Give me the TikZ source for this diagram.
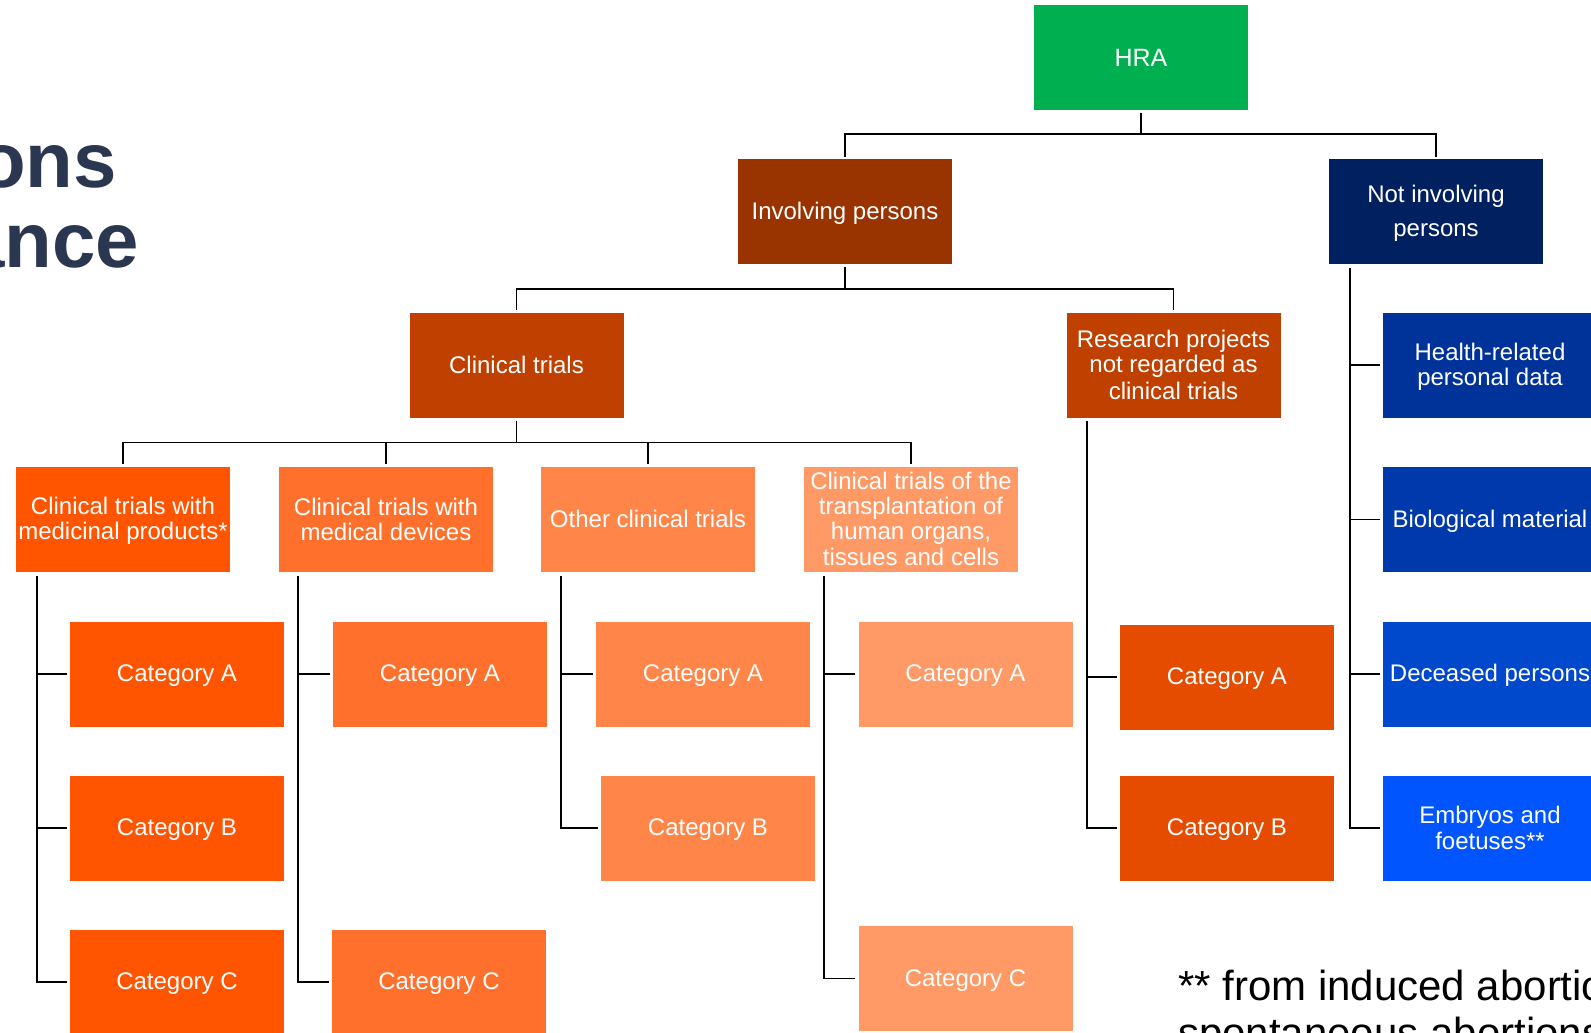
\documentclass[tikz,border=0pt]{standalone}
\usepackage{fontspec}
\setmainfont{Liberation Sans}
\definecolor{cHRA}{HTML}{00B050}
\definecolor{cInv}{HTML}{993300}
\definecolor{cNot}{HTML}{002060}
\definecolor{cCT}{HTML}{C04000}
\definecolor{cMP}{HTML}{FF5500}
\definecolor{cMD}{HTML}{FF702C}
\definecolor{cOT}{HTML}{FF8648}
\definecolor{cTP}{HTML}{FF9966}
\definecolor{cRC}{HTML}{E64C00}
\definecolor{cB1}{HTML}{003399}
\definecolor{cB2}{HTML}{0039AC}
\definecolor{cB3}{HTML}{0048CC}
\definecolor{cB4}{HTML}{0055FF}
\definecolor{cTitle}{HTML}{2B3650}
\newcommand{\ls}{\rule[-0.167em]{0pt}{1.027em}}
\tikzset{
  box/.style={rectangle, inner sep=0pt, minimum width=214pt, minimum height=105pt,
    text=white, align=center, font=\fontsize{24}{24.8}\selectfont},
  link/.style={line width=1.5pt, black},
}
\begin{document}
\begin{tikzpicture}[x=1pt,y=-1pt]
\useasboundingbox (0,0) rectangle (1591,1033);
\clip (0,0) rectangle (1591,1033);

% title fragment
\node[anchor=base east, inner sep=0pt, text=cTitle, font=\fontsize{78}{80}\selectfont\bfseries] (t1) at (117,187) {ons};
\node[anchor=base east, inner sep=0pt, text=cTitle, font=\fontsize{78}{80}\selectfont\bfseries] (t2) at (139,267) {ance};

% footnote
\node[anchor=base west, inner sep=0pt, font=\fontsize{42}{47}\selectfont] (f1) at (1178,1000) {** from induced abortions};
\node[anchor=base west, inner sep=0pt, font=\fontsize{42}{47}\selectfont] (f2) at (1178,1047) {spontaneous abortions};

% level 1-3
\node[box, fill=cHRA, font=\fontsize{25}{26}\selectfont] (hra) at (1141,57.5) {\ls HRA};
\node[box, fill=cInv] (inv) at (845,211.5) {\ls Involving persons};
\node[box, fill=cNot, font=\fontsize{24}{34.5}\selectfont] (not) at (1436,211.5) {\ls Not involving\\persons\ls};
\node[box, fill=cCT] (ct) at (516.5,365) {\ls Clinical trials};
\node[box, fill=cCT] (res) at (1173.5,365) {\ls Research projects\\not regarded as\\clinical trials\ls};

% level 4
\node[box, fill=cMP] (mp) at (123,519.5) {\ls Clinical trials with\\medicinal products*\ls};
\node[box, fill=cMD] (md) at (386,519.5) {\ls Clinical trials with\\medical devices\ls};
\node[box, fill=cOT] (ot) at (648,519.5) {\ls Other clinical trials};
\node[box, fill=cTP] (tp) at (911,519.5) {\ls Clinical trials of the\\transplantation of\\human organs,\\tissues and cells\ls};

% blue column
\node[box, fill=cB1] (b1) at (1490,365) {\ls Health-related\\personal data\ls};
\node[box, fill=cB2] (b2) at (1490,519.5) {\ls Biological material};
\node[box, fill=cB3] (b3) at (1490,674) {\ls Deceased persons};
\node[box, fill=cB4] (b4) at (1490,828) {\ls Embryos and\\foetuses**\ls};

% categories
\node[box, fill=cMP] (mpA) at (177,674) {\ls Category A};
\node[box, fill=cMP] (mpB) at (177,828) {\ls Category B};
\node[box, fill=cMP] (mpC) at (177,982) {\ls Category C};
\node[box, fill=cMD] (mdA) at (440,674) {\ls Category A};
\node[box, fill=cMD] (mdC) at (439,982) {\ls Category C};
\node[box, fill=cOT] (otA) at (703,674) {\ls Category A};
\node[box, fill=cOT] (otB) at (708,828) {\ls Category B};
\node[box, fill=cTP] (tpA) at (965.5,674) {\ls Category A};
\node[box, fill=cTP] (tpC) at (965.5,978.5) {\ls Category C};
\node[box, fill=cRC] (rA) at (1227,677) {\ls Category A};
\node[box, fill=cRC] (rB) at (1227,828) {\ls Category B};

% top-down connectors
\draw[link, shorten <=3pt] (hra.south) -- ++(0,24) coordinate (j1);
\draw[link, shorten >=2pt] (j1) -| (inv.north);
\draw[link, shorten >=2pt] (j1) -| (not.north);
\draw[link, shorten <=3pt] (inv.south) -- ++(0,25) coordinate (j2);
\draw[link, shorten >=2pt] (j2) -| (ct.north);
\draw[link, shorten >=2pt] (j2) -| (res.north);
\draw[link, shorten <=3pt] (ct.south) -- ++(0,25) coordinate (j3);
\draw[link, shorten >=3pt] (j3) -| (mp.north);
\draw[link, shorten >=3pt] (j3) -| (md.north);
\draw[link, shorten >=3pt] (j3) -| (ot.north);
\draw[link, shorten >=3pt] (j3) -| (tp.north);

% side trees
\coordinate (v1) at (37,576);
\coordinate (v2) at (298,576);
\coordinate (v3) at (561,576);
\coordinate (v4) at (824,576);
\coordinate (v5) at (1087,421);
\coordinate (v6) at (1350,268);

\draw[link, shorten >=3pt] (v1) |- (mpC.west);
\draw[link, shorten >=3pt] (v1 |- mpA.west) -- (mpA.west);
\draw[link, shorten >=3pt] (v1 |- mpB.west) -- (mpB.west);

\draw[link, shorten >=3pt] (v2) |- (mdC.west);
\draw[link, shorten >=3pt] (v2 |- mdA.west) -- (mdA.west);

\draw[link, shorten >=3pt] (v3) |- (otB.west);
\draw[link, shorten >=3pt] (v3 |- otA.west) -- (otA.west);

\draw[link, shorten >=3pt] (v4) |- (tpC.west);
\draw[link, shorten >=3pt] (v4 |- tpA.west) -- (tpA.west);

\draw[link, shorten >=3pt] (v5) |- (rB.west);
\draw[link, shorten >=3pt] (v5 |- rA.west) -- (rA.west);

\draw[link, shorten >=3pt] (v6) |- (b4.west);
\draw[link, shorten >=3pt] (v6 |- b1.west) -- (b1.west);
\draw[link, shorten >=3pt] (v6 |- b2.west) -- (b2.west);
\draw[link, shorten >=3pt] (v6 |- b3.west) -- (b3.west);
\end{tikzpicture}
\end{document}
